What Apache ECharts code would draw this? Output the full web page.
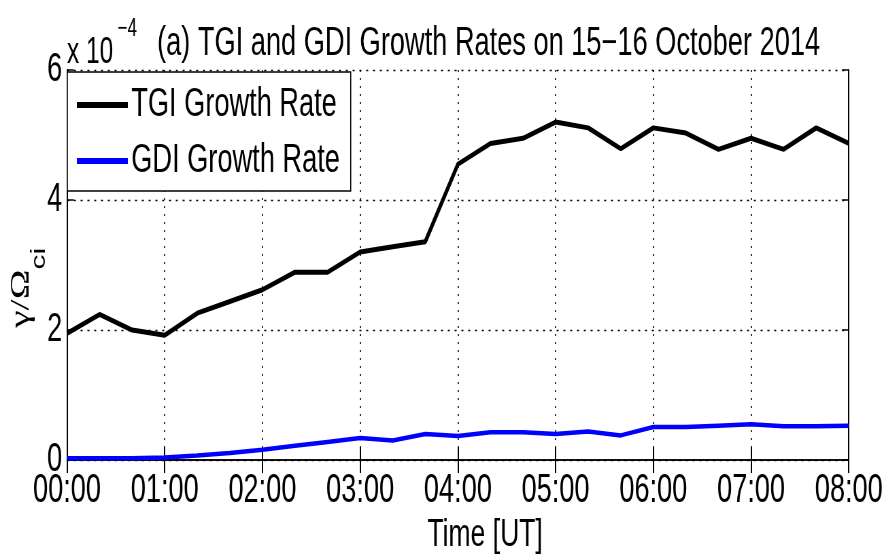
<!DOCTYPE html>
<html>
<head>
<meta charset="utf-8">
<script src="https://cdn.jsdelivr.net/npm/echarts@6/dist/echarts.min.js"></script>
<style>
  html, body { margin: 0; padding: 0; background: #fff; overflow: hidden; }
  /* the reference is a horizontally squeezed figure, so the chart is drawn wide and squeezed back */
  #chart { width: 1307px; height: 560px; transform: scaleX(0.68); transform-origin: 0 0; }
</style>
</head>
<body>
<div id="chart"></div>
<script>
const times = [
  "00:00", "00:20", "00:40", "01:00", "01:20", "01:40", "02:00", "02:20", "02:40",
  "03:00", "03:20", "03:40", "04:00", "04:20", "04:40", "05:00", "05:20", "05:40",
  "06:00", "06:20", "06:40", "07:00", "07:20", "07:40", "08:00"
];
// growth rates in units of 1e-4
const tgiRate = [
  1.95, 2.24, 2.0, 1.92, 2.26, 2.44, 2.62, 2.89, 2.89,
  3.2, 3.28, 3.36, 4.55, 4.87, 4.95, 5.2, 5.11, 4.79,
  5.11, 5.03, 4.78, 4.95, 4.78, 5.11, 4.87
];
const gdiRate = [
  0.03, 0.03, 0.03, 0.04, 0.07, 0.11, 0.16, 0.22, 0.28,
  0.34, 0.3, 0.4, 0.37, 0.43, 0.43, 0.4, 0.44, 0.38,
  0.51, 0.51, 0.53, 0.55, 0.52, 0.52, 0.53
];
const yTicks = [0, 2, 4, 6];

const sans = "'Liberation Sans', Arial, sans-serif";
const serif = "'Liberation Serif', 'Times New Roman', serif";

const chart = echarts.init(document.getElementById("chart"));

const catAxis = (pos, showLabel) => ({
  type: "category",
  position: pos,
  data: times,
  boundaryGap: false,
  axisLine: { show: true, lineStyle: { color: "#000", width: 1.5 } },
  axisTick: { show: true, inside: true, length: 13, interval: 2, lineStyle: { color: "#000", width: 2 } },
  axisLabel: {
    show: showLabel,
    interval: 2,
    margin: 11,
    color: "#000",
    fontSize: 40,
    fontFamily: sans
  },
  splitLine: {
    show: showLabel,
    interval: 2,
    lineStyle: { color: "#000", width: 1.6, type: [2, 6] }
  }
});

const valAxis = (pos, showLabel) => ({
  type: "value",
  position: pos,
  min: yTicks[0],
  max: yTicks[yTicks.length - 1],
  interval: 2,
  axisLine: { show: true, lineStyle: { color: "#000", width: 2 } },
  axisTick: { show: true, inside: true, length: 10, lineStyle: { color: "#000", width: 1.5 } },
  axisLabel: {
    show: showLabel,
    margin: 7,
    color: "#000",
    fontSize: 40,
    fontFamily: sans
  },
  splitLine: {
    show: showLabel,
    lineStyle: { color: "#000", width: 1.3, type: [3, 7] }
  }
});

const xBottom = catAxis("bottom", true);
xBottom.name = "Time [UT]";
xBottom.nameLocation = "middle";
xBottom.nameGap = 52;
xBottom.nameTextStyle = { color: "#000", fontSize: 39, fontFamily: sans, padding: [0, 0, 0, 80] };

const option = {
  backgroundColor: "#fff",
  animation: false,
  title: {
    text: "(a) TGI and GDI Growth Rates on 15\u221216 October 2014",
    left: 231,
    top: 24,
    padding: 0,
    textStyle: { color: "#000", fontSize: 40, fontWeight: "normal", fontFamily: sans }
  },
  grid: { left: 98.5, right: 58.8, top: 70, bottom: 97 },
  legend: {
    orient: "vertical",
    left: 99,
    top: 72,
    padding: [13, 16, 10, 14],
    itemGap: 16,
    itemWidth: 75,
    itemHeight: 6,
    icon: "rect",
    backgroundColor: "#fff",
    borderColor: "#000",
    borderWidth: 1.5,
    textStyle: { color: "#000", fontSize: 40, fontFamily: sans },
    data: ["TGI Growth Rate", "GDI Growth Rate"]
  },
  xAxis: [xBottom, catAxis("top", false)],
  yAxis: [valAxis("left", true), valAxis("right", false)],
  series: [
    {
      name: "TGI Growth Rate",
      type: "line",
      data: tgiRate,
      symbol: "none",
      color: "#000",
      lineStyle: { color: "#000", width: 5 },
      z: 3
    },
    {
      name: "GDI Growth Rate",
      type: "line",
      data: gdiRate,
      symbol: "none",
      color: "#0000ff",
      lineStyle: { color: "#0000ff", width: 4.5 },
      z: 3
    }
  ],
  graphic: [
    {
      type: "text",
      left: 98.5,
      top: 35,
      style: { text: "x 10", fill: "#000", fontSize: 36, fontFamily: sans }
    },
    {
      type: "text",
      left: 173,
      top: 17,
      style: { text: "\u22124", fill: "#000", fontSize: 25, fontFamily: sans }
    },
    {
      type: "text",
      x: 31,
      y: 288,
      rotation: Math.PI / 2,
      style: {
        text: "{g|\u03b3/\u03a9}{s|ci}",
        align: "center",
        verticalAlign: "middle",
        fill: "#000",
        rich: {
          g: { fontSize: 40, fontFamily: serif, lineHeight: 84, verticalAlign: "middle", fill: "#000" },
          s: { fontSize: 30, fontFamily: sans, lineHeight: 84, verticalAlign: "bottom", fill: "#000" }
        }
      }
    }
  ]
};

chart.setOption(option);
</script>
</body>
</html>
